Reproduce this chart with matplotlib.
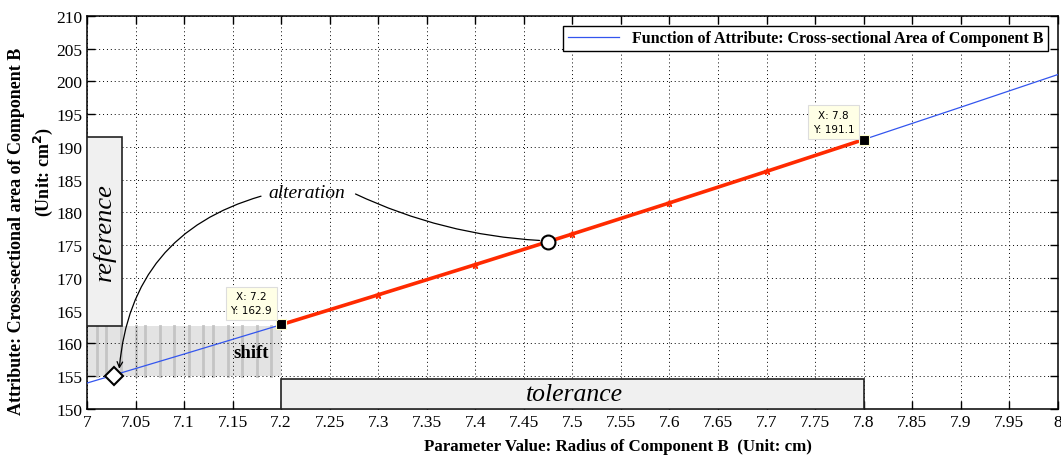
import matplotlib.pyplot as plt
import matplotlib.patches as mpatches

# radius (cm) and cross-sectional area (cm^2)
radius = [7.0, 7.1, 7.2, 7.3, 7.4, 7.5, 7.6, 7.7, 7.8, 7.9, 8.0]
area = [153.94, 158.37, 162.86, 167.42, 172.03, 176.71, 181.46, 186.27, 191.13, 196.07, 201.06]

tol_radius = [7.2, 7.3, 7.4, 7.5, 7.6, 7.7, 7.8]
tol_area = [162.86, 167.42, 172.03, 176.71, 181.46, 186.27, 191.13]

tip_x = [7.2, 7.8]
tip_y = [162.9, 191.1]

ref_point = (7.028, 155.0)
alt_point = (7.475, 175.5)

xticks = [7, 7.05, 7.1, 7.15, 7.2, 7.25, 7.3, 7.35, 7.4, 7.45, 7.5, 7.55, 7.6, 7.65,
          7.7, 7.75, 7.8, 7.85, 7.9, 7.95, 8]
xticklabels = ['7', '7.05', '7.1', '7.15', '7.2', '7.25', '7.3', '7.35', '7.4', '7.45', '7.5',
               '7.55', '7.6', '7.65', '7.7', '7.75', '7.8', '7.85', '7.9', '7.95', '8']
yticks = [150, 155, 160, 165, 170, 175, 180, 185, 190, 195, 200, 205, 210]

plt.rcParams['font.family'] = ['Liberation Serif', 'DejaVu Serif']

fig = plt.figure(figsize=(10.61, 4.60), dpi=100)
ax = fig.add_axes([0.082, 0.109, 0.915, 0.854])

# --- shaded boxes ---
ax.add_patch(mpatches.Rectangle((7.0, 162.7), 0.036, 28.8, facecolor='#f0f0f0',
                                edgecolor='#222222', lw=1.2, zorder=3))
ax.text(7.018, 177.2, 'reference', rotation=90, style='italic', fontsize=19,
        ha='center', va='center', zorder=4)

ax.add_patch(mpatches.Rectangle((7.0, 155.0), 0.2, 7.7, facecolor='#dcdcdc',
                                edgecolor='none', alpha=0.8, zorder=1))
stripes = [7.01, 7.02, 7.035, 7.05, 7.06, 7.075, 7.09, 7.105, 7.12, 7.13, 7.145,
           7.16, 7.175, 7.19]
for sx in stripes:
    ax.plot([sx, sx], [155.0, 162.7], color='#c4c4c4', lw=2, zorder=1)
ax.text(7.169, 158.6, 'shift', fontweight='bold', fontsize=13.5, ha='center', va='center', zorder=4)

ax.add_patch(mpatches.Rectangle((7.2, 150.0), 0.6, 4.6, facecolor='#f0f0f0',
                                edgecolor='#222222', lw=1.2, zorder=3))
ax.text(7.502, 152.3, 'tolerance', style='italic', fontsize=18.5, ha='center', va='center', zorder=4)

# --- curves ---
ax.plot(radius, area, color='#3355ee', lw=0.9, zorder=5,
        label='Function of Attribute: Cross-sectional Area of Component B')
ax.plot(tol_radius, tol_area, color='#ff2a00', lw=2.6, zorder=6)
ax.plot(tol_radius[1:-1], tol_area[1:-1], ls='none', marker='*', ms=5, color='#ff2a00', zorder=6)
ax.plot(tip_x, tip_y, ls='none', marker='s', ms=7, color='black', mec='#ffffcc', mew=0.8, zorder=8)

ax.plot(*ref_point, marker='D', ms=9, mfc='white', mec='black', mew=1.5, zorder=9)
ax.plot(*alt_point, marker='o', ms=10, mfc='white', mec='black', mew=1.5, zorder=9)

# data tips
tip_text = ['X: 7.2\nY: 162.9', 'X: 7.8\nY: 191.1']
tip_pos = [(7.169, 164.3), (7.769, 192.0)]
for t, (tx, ty) in zip(tip_text, tip_pos):
    ax.text(tx, ty, t, family='DejaVu Sans', fontsize=7.5, linespacing=1.5,
            ha='center', va='bottom', zorder=10,
            bbox=dict(boxstyle='square,pad=0.45', fc='#ffffe6', ec='#dddddd', lw=0.8))

# alteration annotation
ax.text(7.226, 183.1, 'alteration', style='italic', fontsize=14, ha='center', va='center', zorder=7)
ax.annotate('', xy=(7.033, 155.7), xytext=(7.182, 182.6),
            arrowprops=dict(arrowstyle='->', color='black', lw=0.9,
                            connectionstyle='arc3,rad=0.35'), zorder=7)
ax.annotate('', xy=(alt_point[0] - 0.006, alt_point[1] + 0.2), xytext=(7.274, 183.0),
            arrowprops=dict(arrowstyle='-', color='black', lw=0.9,
                            connectionstyle='arc3,rad=0.1'), zorder=7)

# --- axes styling ---
ax.set_xlim(7, 8)
ax.set_ylim(150, 210)
ax.set_xticks(xticks)
ax.set_xticklabels(xticklabels)
ax.set_yticks(yticks)
ax.tick_params(direction='in', top=True, right=True, labelsize=12.5, length=6, width=1)
ax.grid(True, color='black', ls=(0, (1, 3)), lw=0.7)
for sp in ax.spines.values():
    sp.set_linewidth(1.1)

# axis labels (placed like the original, slightly off-centre)
fig.text(0.582, 0.028, 'Parameter Value: Radius of Component B  (Unit: cm)',
         fontweight='bold', fontsize=12.2, ha='center', va='center')
fig.text(0.016, 0.498, 'Attribute: Cross-sectional area of Component B',
         fontweight='bold', fontsize=13, rotation=90, ha='center', va='center')
fig.text(0.041, 0.626, '(Unit: cm$^\\mathbf{2}$)',
         fontweight='bold', fontsize=13, rotation=90, ha='center', va='center')

leg = ax.legend(loc='upper right', prop={'weight': 'bold', 'size': 11.5}, fancybox=False,
                edgecolor='black', framealpha=1, borderaxespad=0.6, handlelength=3.2,
                borderpad=0.3)
leg.get_frame().set_linewidth(1.0)

fig.savefig('out.png', dpi=100)
